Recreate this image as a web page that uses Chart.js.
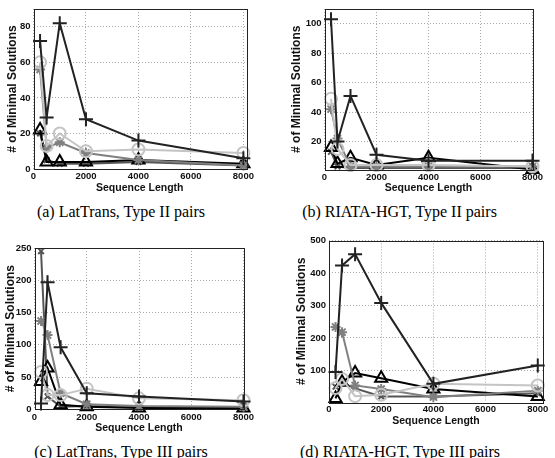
<!DOCTYPE html>
<html><head><meta charset="utf-8">
<script src="https://cdn.jsdelivr.net/npm/chart.js@4/dist/chart.umd.min.js"></script>
<style>
html,body{margin:0;padding:0;background:#fff;width:555px;height:458px;overflow:hidden;position:relative}
canvas{position:absolute}
.cap{position:absolute;font:16px "Liberation Serif","Times New Roman",serif;line-height:16px;color:#000;white-space:nowrap;transform:translateX(-50%)}
</style></head><body>
<canvas id="ca"></canvas><canvas id="cb"></canvas><canvas id="cc"></canvas><canvas id="cd"></canvas>
<div class="cap" id="capA"></div><div class="cap" id="capB"></div>
<div class="cap" id="capC"></div><div class="cap" id="capD"></div>
<script>
// ---- data ----
const seqLength = [250, 500, 1000, 2000, 4000, 8000];
const xTickValues = [0, 2000, 4000, 6000, 8000];

const plusA   = [72, 29, 82, 28, 16, 6];
const circleA = [60, 13, 20, 10, 11, 9];
const starA   = [56, 12, 15, 9, 5, 2];
const triA    = [22, 4, 4, 4, 5, 3];
const crossA  = [20, 5, 3, 3, 4, 2];
const yTicksA = [0, 20, 40, 60, 80];

const plusB   = [103, 20, 51, 11, 7, 7];
const circleB = [49, 15, 4, 4, 4, 3];
const starB   = [42, 22, 3, 3, 3, 3];
const triB    = [16, 5, 9, 4, 9, 1];
const crossB  = [13, 3, 2, 2, 2, 2];
const yTicksB = [20, 40, 60, 80, 100];

const plusC   = [9, 197, 96, 25, 20, 12];
const circleC = [58, 22, 22, 32, 17, 14];
const starC   = [137, 115, 25, 8, 5, 4];
const triC    = [43, 64, 7, 4, 2, 2];
const crossC  = [245, 20, 4, 5, 3, 3];
const yTicksC = [0, 50, 100, 150, 200, 250];

const plusD   = [95, 423, 458, 308, 59, 115];
const circleD = [46, 74, 21, 25, 59, 54];
const starD   = [234, 218, 54, 43, 18, 38];
const triD    = [14, 64, 92, 76, 43, 20];
const crossD  = [50, 62, 45, 20, 20, 30];
const yTicksD = [100, 200, 300, 400, 500];

const captions = ['(a) LatTrans, Type II pairs', '(b) RIATA-HGT, Type II pairs',
                  '(c) LatTrans, Type III pairs', '(d) RIATA-HGT, Type III pairs'];
const xTitle = 'Sequence Length';
const yTitle = '# of Minimal Solutions';

// ---- styles ----
const styles = {
  plus:   {color: '#222222', point: 'cross',    r: 7},
  circle: {color: '#c4c4c4', point: 'circle',   r: 6},
  star:   {color: '#808080', point: 'star',     r: 5},
  tri:    {color: '#000000', point: 'triangle', r: 7},
  cross:  {color: '#555555', point: 'crossRot', r: 4}
};

const boxPlugin = {
  id: 'box',
  afterDatasetsDraw(chart) {
    const {ctx, chartArea: a} = chart;
    ctx.save();
    ctx.strokeStyle = '#222';
    ctx.lineWidth = 1;
    ctx.strokeRect(Math.round(a.left) + 0.5, Math.round(a.top) + 0.5,
                   Math.round(a.right - a.left), Math.round(a.bottom - a.top));
    ctx.restore();
  }
};

function ds(values, key) {
  const s = styles[key];
  return {
    data: seqLength.map((x, i) => ({x, y: values[i]})),
    borderColor: s.color, borderWidth: 2,
    pointStyle: s.point, pointRadius: s.r, pointBorderColor: s.color,
    pointBorderWidth: 2, pointBackgroundColor: 'rgba(0,0,0,0)',
    clip: false, tension: 0
  };
}

const panels = [
  {id: 'ca', cap: 'capA', left: 0,   top: 0,   w: 278, h: 200, area: {l: 33.5, r: 246, t: 7, b: 169}, padL: 5,
   ymin: 0, ymax: 90, xmax: 8100, yTicks: yTicksA, series: [plusA, circleA, starA, triA, crossA], capX: 121, capY: 204},
  {id: 'cb', cap: 'capB', left: 278, top: 0,   w: 277, h: 200, area: {l: 46.5, r: 254.5, t: 7, b: 169.5}, padL: 11,
   ymin: 1, ymax: 110, xmax: 8000, yTicks: yTicksB, series: [plusB, circleB, starB, triB, crossB], capX: 399.5, capY: 204},
  {id: 'cc', cap: 'capC', left: 0,   top: 230, w: 278, h: 210, area: {l: 34.5, r: 243.5, t: 18, b: 179.3}, padL: 3.5,
   ymin: 0, ymax: 250, xmax: 8000, yTicks: yTicksC, series: [plusC, circleC, starC, triC, crossC], capX: 121, capY: 444},
  {id: 'cd', cap: 'capD', left: 278, top: 230, w: 277, h: 210, area: {l: 51, r: 265, t: 10.5, b: 172}, padL: 16,
   ymin: 3, ymax: 500, xmax: 8200, yTicks: yTicksD, series: [plusD, circleD, starD, triD, crossD], capX: 400, capY: 444}
];

const keys = ['plus', 'circle', 'star', 'tri', 'cross'];
const tickFont = {family: '"Liberation Sans", Arial, sans-serif', size: 9.5, weight: 'bold'};
const xTitleFont = {family: '"Liberation Sans", Arial, sans-serif', size: 10.5, weight: 'bold'};
const yTitleFont = {family: '"Liberation Sans", Arial, sans-serif', size: 12, weight: 'bold'};
const X_H = 25;

panels.forEach((p, pi) => {
  const cv = document.getElementById(p.id);
  cv.width = p.w; cv.height = p.h;
  cv.style.left = p.left + 'px'; cv.style.top = p.top + 'px';
  cv.style.width = p.w + 'px'; cv.style.height = p.h + 'px';
  const cap = document.getElementById(p.cap);
  cap.textContent = captions[pi];
  cap.style.left = p.capX + 'px'; cap.style.top = p.capY + 'px';

  const yW = p.area.l - p.padL;
  new Chart(cv, {
    type: 'line',
    data: {datasets: p.series.map((v, i) => ds(v, keys[i]))},
    options: {
      responsive: false, animation: false, devicePixelRatio: 1,
      layout: {padding: {left: p.padL, top: p.area.t, right: p.w - p.area.r, bottom: p.h - p.area.b - X_H}},
      plugins: {legend: {display: false}, tooltip: {enabled: false}},
      scales: {
        x: {
          type: 'linear', min: 0, max: p.xmax,
          afterBuildTicks: s => { s.ticks = xTickValues.map(v => ({value: v})); },
          afterFit: s => { s.height = X_H; },
          ticks: {font: tickFont, color: '#111', padding: 2, autoSkip: false, maxRotation: 0, includeBounds: false,
                  callback: v => String(v)},
          grid: {color: '#a8a8a8', lineWidth: 1, drawTicks: false},
          border: {display: false, dash: [1, 2]},
          title: {display: true, text: xTitle, font: xTitleFont, color: '#111', padding: 0}
        },
        y: {
          type: 'linear', min: p.ymin, max: p.ymax,
          afterBuildTicks: s => { s.ticks = p.yTicks.map(v => ({value: v})); },
          afterFit: s => { s.width = yW; },
          ticks: {font: tickFont, color: '#111', padding: 3, autoSkip: false, includeBounds: false,
                  callback: v => String(v)},
          grid: {color: '#a8a8a8', lineWidth: 1, drawTicks: false},
          border: {display: false, dash: [1, 2]},
          title: {display: true, text: yTitle, font: yTitleFont, color: '#111', padding: 0}
        }
      }
    },
    plugins: [boxPlugin]
  });
});
</script>
</body></html>
